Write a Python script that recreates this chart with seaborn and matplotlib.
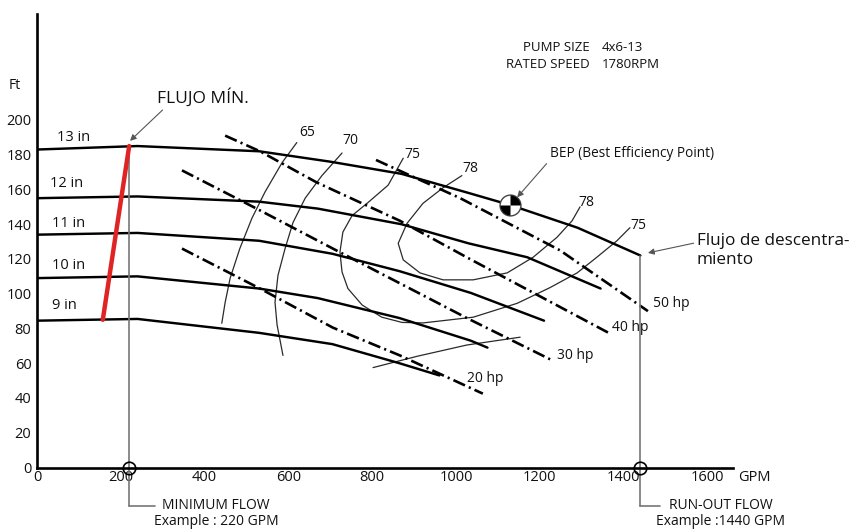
import numpy as np
import pandas as pd
import matplotlib
matplotlib.use("Agg")
import matplotlib.pyplot as plt
from matplotlib.path import Path
import seaborn as sns

# ---- impeller head curves: flow (GPM) vs head (Ft) ----
q_13in = [0, 240, 530, 700, 870, 1030, 1130, 1290, 1440]
h_13in = [183, 185, 182, 176, 169, 158, 151, 138, 122]
q_12in = [0, 240, 530, 670, 870, 1030, 1170, 1345]
h_12in = [155, 156, 153, 149, 140, 129, 121, 103]
q_11in = [0, 240, 530, 705, 865, 1035, 1210]
h_11in = [134, 135, 130.5, 123, 113, 100.5, 84.5]
q_10in = [0, 240, 530, 670, 865, 1035, 1075]
h_10in = [109, 110, 103, 97.5, 86, 73, 69]
q_9in = [0, 240, 530, 705, 865, 960]
h_9in = [84.5, 85.5, 77.5, 71, 60, 53]
diameter_labels = ["13 in", "12 in", "11 in", "10 in", "9 in"]

# ---- brake horsepower lines ----
q_50hp = [809, 1010, 1248, 1458]
h_50hp = [177, 155, 125, 90]
q_40hp = [449, 532, 668, 866, 1033, 1368]
h_40hp = [191, 182, 164, 142, 120, 77]
q_30hp = [346, 532, 706, 866, 1026, 1231]
h_30hp = [171, 148, 126, 106, 86, 61.5]
q_20hp = [346, 532, 706, 866, 1064]
h_20hp = [126, 103, 80.5, 64.5, 42.5]
hp_labels = ["50 hp", "40 hp", "30 hp", "20 hp"]

# ---- efficiency contours (%) ----
q_eff65 = [620, 585, 544, 513, 484, 461, 449, 441]
h_eff65 = [187, 175.5, 158.5, 143.5, 126, 109, 95, 83]
q_eff70 = [728, 680, 640, 611, 592, 575, 568, 573, 587]
h_eff70 = [181, 168, 155, 141, 126, 110.5, 95, 82, 64.5]
q_eff75 = [874, 838, 790, 752, 730, 723, 728, 742, 776, 823, 871, 921,
           1041, 1146, 1224, 1289, 1336, 1384, 1415]
h_eff75 = [178, 162.5, 152.5, 145, 135.5, 124, 112.5, 103, 93.5, 86.5,
           83.5, 83.2, 86.5, 94.5, 103.5, 112, 121, 130.5, 138]
q_eff78 = [1014, 969, 921, 883, 862, 874, 914, 969, 1041, 1122, 1184, 1241,
           1277, 1296]
h_eff78 = [168, 161, 152, 140.5, 129, 119.5, 112, 108, 108, 112, 121, 132.5,
           142, 150]
q_eff_low = [802, 907, 1026, 1153]
h_eff_low = [57.5, 64, 70.5, 75]
eff_names = ["65", "70", "75", "78", "low"]

# minimum-flow line across the diameters
q_minline = [157, 220]
h_minline = [85, 185]

min_flow = 220
runout_flow = 1440
bep_q, bep_h = 1129, 151

x_ticks = [0, 200, 400, 600, 800, 1000, 1200, 1400, 1600]
y_ticks = [0, 20, 40, 60, 80, 100, 120, 140, 160, 180, 200]


def frame(pairs, names):
    parts = []
    for (q, h), n in zip(pairs, names):
        parts.append(pd.DataFrame({"gpm": q, "ft": h, "curve": n}))
    return pd.concat(parts, ignore_index=True)


heads = frame([(q_13in, h_13in), (q_12in, h_12in), (q_11in, h_11in),
               (q_10in, h_10in), (q_9in, h_9in)], diameter_labels)
power = frame([(q_50hp, h_50hp), (q_40hp, h_40hp), (q_30hp, h_30hp),
               (q_20hp, h_20hp)], hp_labels)
eff = frame([(q_eff65, h_eff65), (q_eff70, h_eff70), (q_eff75, h_eff75),
             (q_eff78, h_eff78), (q_eff_low, h_eff_low)], eff_names)

sns.set_theme(style="white")
plt.rcParams["font.family"] = ["Open Sans", "DejaVu Sans"]
plt.rcParams["text.color"] = "#111111"

fig = plt.figure(figsize=(8.56, 5.32), dpi=100)
ax = fig.add_axes([37 / 856, 64.5 / 532, 696 / 856, 453.5 / 532])
ax.set_xlim(0, 1661)
ax.set_ylim(0, 261)

# efficiency contours
sns.lineplot(data=eff, x="gpm", y="ft", units="curve", estimator=None,
             sort=False, color="#2a2a2a", linewidth=0.9, ax=ax)
# horsepower lines
sns.lineplot(data=power, x="gpm", y="ft", units="curve", estimator=None,
             sort=False, color="black", linewidth=1.9,
             linestyle=(0, (4.8, 1.6, 0.8, 1.6)), ax=ax)
# head curves
sns.lineplot(data=heads, x="gpm", y="ft", units="curve", estimator=None,
             sort=False, color="black", linewidth=1.75, ax=ax)

# minimum flow and run-out verticals
h13_min = np.interp(min_flow, q_13in, h_13in)
ax.plot([min_flow, min_flow], [0, h13_min], color="#777777", lw=1.2, zorder=2)
ax.plot([runout_flow, runout_flow], [0, h_13in[-1]], color="#777777", lw=1.2,
        zorder=2)
# red minimum flow line
sns.lineplot(x=q_minline, y=h_minline, color="#e02424", linewidth=3.2,
             ax=ax, zorder=5)

# circles on the flow axis with the callout brackets
for q in (min_flow, runout_flow):
    ax.plot([q], [0], marker="o", ms=9, mfc="none", mec="black", mew=1.2,
            clip_on=False, zorder=6)
    ax.plot([q, q], [0, -22], color="#777777", lw=1.2, clip_on=False)
ax.plot([min_flow, 282], [-22, -22], color="#777777", lw=1.2, clip_on=False)
ax.plot([runout_flow, 1487], [-22, -22], color="#777777", lw=1.2,
        clip_on=False)

# BEP marker
ax.plot([bep_q], [bep_h], marker="o", ms=15, mfc="white", mec="#444444",
        mew=1.0, zorder=7)
for t1, t2 in ((0, 90), (180, 270)):
    ax.plot([bep_q], [bep_h], marker=Path.wedge(t1, t2), ms=14.5,
            color="black", mew=0, zorder=8)

# axes styling
for side in ("top", "right"):
    ax.spines[side].set_visible(False)
for side in ("left", "bottom"):
    ax.spines[side].set_linewidth(1.9)
    ax.spines[side].set_color("black")
ax.set_xticks(x_ticks)
ax.set_yticks(y_ticks)
ax.tick_params(length=0, labelsize=10.5, colors="#111111")
ax.tick_params(axis="y", pad=4)
ax.tick_params(axis="x", pad=1.5)
ax.set_xlabel("")
ax.set_ylabel("")

ax.text(-52, 220, "Ft", fontsize=10, ha="center", va="center", clip_on=False)
ax.text(1673, -6, "GPM", fontsize=10.5, ha="left", va="center",
        clip_on=False)

# diameter labels
for lab, (x, y) in zip(diameter_labels,
                       [(48, 190), (31, 163.5), (36, 140.5), (36, 116.5),
                        (36, 93.5)]):
    ax.text(x, y, lab, fontsize=10.5, ha="left", va="center")

# efficiency labels
for lab, (x, y) in zip(["65", "70", "75", "78", "78", "75"],
                       [(644, 193), (747, 188), (895, 180), (1035, 172),
                        (1310, 152.5), (1434, 139.5)]):
    ax.text(x, y, lab, fontsize=10, ha="center", va="center")

# horsepower labels
for lab, (x, y) in zip(hp_labels, [(1470, 94.5), (1372, 80.5), (1241, 64.5),
                                   (1026, 51)]):
    ax.text(x, y, lab, fontsize=10, ha="left", va="center")

# pump info
ax.text(1320, 241.5, "PUMP SIZE", fontsize=9.5, ha="right", va="center")
ax.text(1348, 241.5, "4x6-13", fontsize=9.5, ha="left", va="center")
ax.text(1320, 232, "RATED SPEED", fontsize=9.5, ha="right", va="center")
ax.text(1348, 232, "1780RPM", fontsize=9.5, ha="left", va="center")

arrow = dict(arrowstyle="-|>", color="#555555", lw=0.8, mutation_scale=9,
             shrinkA=0, shrinkB=0)
ax.annotate("BEP (Best Efficiency Point)", xy=(1146, 155.5),
            xytext=(1224, 180.5), fontsize=9.8, ha="left", va="center",
            arrowprops=dict(arrow, relpos=(0, 0.1)))
ax.annotate("FLUJO MÍN.", xy=(222, 188), xytext=(286, 213), fontsize=12.5,
            ha="left", va="center", arrowprops=dict(arrow, relpos=(0.1, 0)))
ax.annotate("Flujo de descentra-\nmiento", xy=(1458, 123.5),
            xytext=(1575, 125), fontsize=12.3, ha="left", va="center",
            linespacing=1.3, annotation_clip=False,
            arrowprops=dict(arrow, relpos=(0, 0.72)))

ax.text(427, -26.5, "MINIMUM FLOW\nExample : 220 GPM", fontsize=10,
        ha="center", va="center", linespacing=1.05, clip_on=False)
ax.text(1632, -26.5, "RUN-OUT FLOW\nExample :1440 GPM", fontsize=10,
        ha="center", va="center", linespacing=1.05, clip_on=False)

fig.savefig("out.png", dpi=100)
